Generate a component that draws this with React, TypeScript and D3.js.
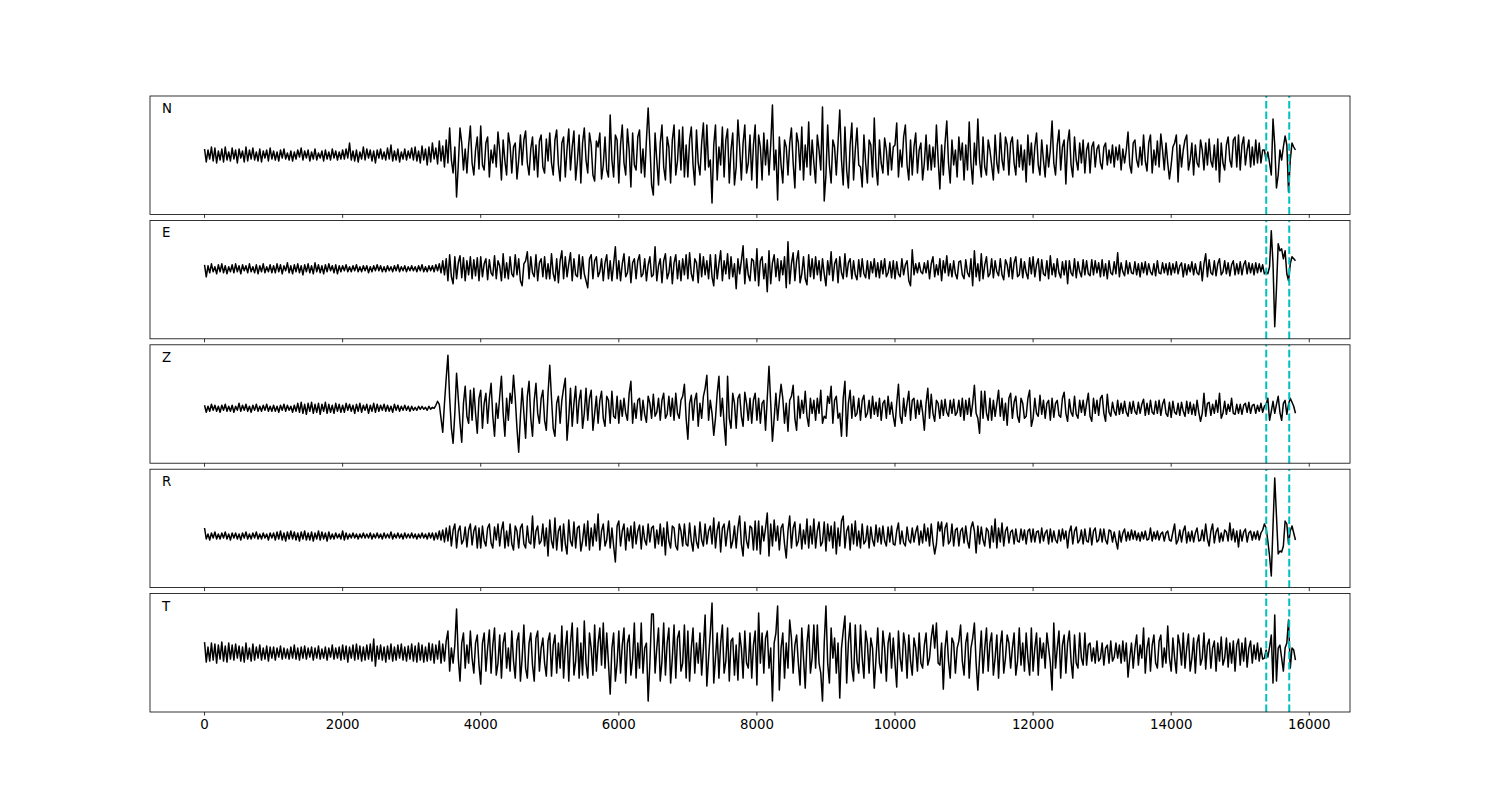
import React from "react";
import * as d3 from "d3";

// channel names, one panel each
const channels = ["N", "E", "Z", "R", "T"];

// samples are read every 25 units along the x axis
const sampleStep = 25;

// picks marked with dashed lines
const pickTimes = [15377, 15710];

const xTicks = [0, 2000, 4000, 6000, 8000, 10000, 12000, 14000, 16000];

// amplitudes, roughly in pixel units above/below each trace baseline
// one line = 1000 x-units (40 samples)
const traceN = [
  6, -7, 5, -4, 8, -6, 7, -8, 4, -5, 6, -7, 8, -5, 3, -6, 7, -4, 5, -8, 6, -3, 4, -7, 8, -6, 5, -4, 7, -5, 3, -6, 6, -7, 4, -3, 5, -6, 7, -4,
  4, -5, 3, -6, 5, -3, 6, -4, 2, -5, 4, -6, 3, -4, 5, -2, 7, -5, 4, -3, 5, -6, 3, -4, 6, -5, 2, -3, 4, -6, 5, -4, 3, -5, 6, -3, 4, -5, 3, -4,
  5, -4, 6, -3, 12, -5, 4, -6, 5, -7, 3, -4, 8, -5, 6, -3, 5, -6, 4, -8, 5, -3, 6, -4, 3, -5, 7, -4, 10, -6, 4, -5, 6, -7, 3, -4, 6, -5, 4, -3,
  7, -5, 8, -6, 4, -8, 9, -5, 6, -10, 8, -7, 12, -4, 7, -9, 14, -6, 9, -12, 15, -8, 27, -5, -18, 8, -42, -10, 27, 12, -15, 6, -18, 10, 29, -8, -20, 5, 18, -14,
  29, -10, -15, 12, 18, -22, 5, -8, 10, -12, 23, 4, -25, 15, -6, -20, 22, 10, -18, 8, 12, -24, -5, 20, -10, 15, 24, -8, -20, 6, 18, -15, 10, -22, 14, 20, -12, -18, 16, -6,
  22, -8, -20, 15, 25, -10, -26, 12, 18, -22, 6, 26, -15, 8, 24, -25, -6, 20, -28, 12, 27, -5, -18, 22, 10, -20, -26, 14, 8, 22, -24, -10, 18, -15, -22, 40, -5, -22, 20, 15,
  -28, 10, 30, -8, -20, 26, 5, -32, 22, -10, -15, 18, 25, -18, 6, -22, 15, 47, 10, -30, -40, 22, -5, -30, 12, 30, -12, -25, 18, 8, -28, 15, 30, -20, -6, 25, -15, 28, -22, 10,
  -22, 15, 28, -10, -30, 25, -8, -20, 12, 32, -15, 30, -12, -5, -48, 10, 30, -25, 8, -10, 28, -22, 15, 26, -28, 5, 22, -30, -12, 35, 8, -25, 12, 30, -18, -8, 20, -25, 10, 30,
  -33, 20, 8, -25, 22, -10, 15, -20, 10, 50, -15, 5, -45, 18, -10, -28, 15, 8, -20, 12, 27, -8, -33, 22, 12, -15, 28, -25, 10, -12, 33, -20, 15, -8, -28, 20, 5, -15, 48, -46,
  -20, 30, -10, -28, 15, 8, -20, 12, 45, -5, -30, 28, -15, -33, 10, 32, -25, 5, 27, -10, -12, -32, 20, -8, -28, 15, 10, -22, 37, -12, -30, 15, -8, -18, 17, 5, -20, 12, -15, 8,
  10, 32, -22, 5, -12, 18, 30, -10, -25, 15, -20, 8, 22, -18, 5, 12, -25, -8, 20, -15, 10, -15, 8, -12, 30, -5, -34, 10, -20, 12, 34, -8, -28, 15, -10, 5, -22, 18, -5, 12,
  -25, 10, -15, 33, -8, -29, 12, -10, 36, -5, -22, 18, -12, -20, 15, 5, -10, -25, 20, -8, -18, 22, -5, -15, 18, 10, -20, 12, 18, -8, -20, 15, -12, 10, -15, 5, -27, 20, -10, 12,
  -18, 8, 22, -10, -20, 15, -5, -22, 10, -12, 5, 34, -8, -20, 10, 25, -15, 8, 15, -29, 12, 25, -10, -22, 18, -5, -15, 12, -8, 15, -18, 5, 12, -18, 8, 13, -12, 6, 10, -8,
  -14, 8, 12, -10, 5, -8, 10, -12, 8, -5, 10, -15, 6, -8, 5, 23, -10, -18, 12, 15, -5, -12, 8, -10, 20, -6, -16, 12, 20, -18, 5, -10, 14, -12, 21, 5, -15, 12, -8, -24,
  -10, 8, 12, 20, -27, 10, -12, 5, 15, 20, -15, -5, 12, -20, 10, -8, -12, 15, 5, -15, 12, -10, 16, -6, -12, 10, -15, 16, -27, 12, -8, -15, 10, 18, -5, -12, 15, 18, -12, 20,
  -15, 10, 18, -10, 5, 15, -12, 8, -10, 15, -8, 12, -8, 5, 5, -5, 3, -8, -20, 36, 10, -33, -20, 5, -5, 8, 19, 10, -37, -5, 12, 8, 5,
];

const traceE = [
  4, -8, 3, -4, 5, -3, 2, -5, 4, -3, 5, -4, 3, -5, 2, -3, 4, -4, 5, -3, 3, -5, 4, -2, 3, -4, 5, -3, 2, -4, 4, -5, 3, -3, 5, -4, 2, -3, 4, -4,
  3, -4, 5, -3, 4, -5, 3, -2, 6, -4, 3, -5, 4, -3, 5, -4, 3, -6, 4, -3, 5, -4, 3, -5, 6, -3, 4, -4, 3, -5, 4, -3, 5, -2, 3, -4, 4, -5, 3, -3,
  3, -2, 4, -3, 2, -3, 3, -2, 4, -3, 2, -3, 3, -2, 3, -4, 2, -3, 3, -2, 4, -2, 3, -3, 2, -3, 3, -2, 2, -3, 3, -2, 4, -3, 2, -2, 3, -3, 2, -2,
  3, -2, 2, -3, 3, -2, 4, -3, 2, -3, 3, -2, 3, -3, 4, -2, 5, -4, 8, -6, 10, -12, 14, -8, -15, 12, -10, 6, 13, -9, 11, -12, 8, -6, 12, -10, 9, -7, 11, -12,
  12, -8, 5, 10, -11, 9, -4, -7, 13, -10, 8, 3, -12, 15, -9, 6, -10, 12, -5, -8, 14, -6, 10, -12, -17, 5, 8, 17, -10, 12, -4, -8, 14, -12, 6, 10, -8, 12, -10, 5,
  -10, 15, -5, -12, 10, -14, 8, 18, -10, 12, -8, 5, 16, -12, 10, -6, -8, 14, -10, 12, -5, -12, -19, 10, 14, -10, 8, 12, -8, -3, 10, -12, 6, 14, -10, 8, -12, 5, 22, -10,
  8, -12, 5, 15, -8, -4, 12, -14, 6, 10, -10, 8, 14, -8, -5, 10, -12, 4, 12, -8, -6, 22, -12, 3, 10, -14, 8, 15, -10, -4, 12, -15, 6, 14, -10, 8, -12, 10, -6, 14,
  -10, 16, -5, -12, 10, 6, -14, 15, -8, 12, -6, 8, -10, 14, -8, -17, 14, -10, 5, 18, -12, 8, -5, 15, -10, 12, -8, 5, -20, 10, -5, 8, 23, -15, 10, -6, -12, 10, 8, -12,
  20, -17, 8, 12, -10, 5, -23, 18, -15, 6, 14, -8, 10, -12, 8, -6, 12, -19, 27, -15, 5, 16, -12, 8, 18, -14, -5, 12, -10, -16, 14, -8, 10, -10, 12, -6, 8, -12, 10, -5,
  -17, 8, -6, 17, -12, 5, 10, -14, 12, -4, -10, 15, -8, 6, 10, -10, 8, -6, -11, 9, -8, 10, -5, -9, 8, -10, 7, -4, 10, -8, 6, -9, 8, -5, 10, -8, -4, 7, -9, 8,
  -10, 7, -5, -8, 10, -6, 4, 8, -12, -17, 19, -6, 5, -4, 6, -3, -5, 6, -4, 8, -10, 5, 12, -8, 4, -6, 10, -12, 8, -4, 13, -7, 5, -8, 8, -5, -10, 7, 8, -6,
  -10, 9, -4, -8, 10, -17, 18, -8, 5, -12, 15, -10, 4, 12, -8, -5, 10, -9, 8, -3, -7, 10, -6, -11, 9, 4, -8, 11, -10, 6, 12, -8, -6, 10, -9, 7, -4, -10, 11, -5,
  12, -8, 4, 10, -12, 9, -5, -7, 8, -10, 13, -6, 5, -8, 10, -4, -9, 7, -6, 8, -15, 8, -4, -7, 10, -9, 7, -3, -8, 9, -6, 8, -5, -7, 9, -6, 8, -4, 6, -8,
  9, -7, 5, -10, 8, -4, -6, 7, -5, 16, -8, 6, -3, -7, 8, -5, 6, -4, -5, 7, -6, 5, -8, 6, -4, 7, -6, 5, -3, -6, 5, -7, 8, -4, -5, 6, -4, 5, -6, 6,
  -6, 5, -4, 7, -5, 3, 6, -8, 5, -6, 4, -3, 7, -6, 5, -4, -6, 7, -12, 5, 15, -8, 9, -4, -6, 8, -7, 5, 10, -6, -3, 8, -5, 6, -7, 4, 8, -6, 5, -5,
  7, -6, 4, 8, -5, 6, -4, 5, -6, 6, -4, 5, -3, 4, -5, -3, -5, 2, 38, 5, -58, -20, 25, 18, 20, 10, 18, -5, -12, 5, 12, 10, 8,
];

const traceZ = [
  3, -4, 2, -3, 4, -2, 3, -3, 2, -4, 3, -2, 4, -3, 2, -3, 3, -4, 2, -2, 5, -3, 3, -2, 4, -3, 2, -4, 3, -2, 4, -3, 2, -3, 3, -2, 4, -3, 2, -3,
  3, -3, 2, -4, 3, -2, 4, -3, 3, -2, 2, -4, 3, -3, 5, -4, 6, -5, 4, -6, 5, -3, 6, -5, 4, -4, 5, -6, 4, -3, 6, -5, 4, -4, 3, -5, 5, -3, 4, -4,
  3, -4, 5, -2, 4, -3, 3, -5, 4, -3, 5, -4, 3, -2, 4, -5, 3, -3, 5, -4, 4, -3, 3, -2, 4, -3, 3, -3, 2, -4, 4, -2, 3, -3, 2, -2, 3, -2, 2, -3,
  2, -2, 1, -2, 2, -1, 2, -1, 1, -2, 2, -1, 1, 0, 3, 7, 4, -10, -24, 5, 30, 53, 10, -20, -35, -5, 35, 10, -15, -34, 5, 22, -8, -15, 18, -12, 20, -5, -25, 10,
  18, -20, 5, 15, -15, 10, 25, -8, -28, 5, -10, 12, 32, -5, -28, 10, -12, 15, 5, 33, 10, -20, -44, -8, 20, -5, -30, 12, 27, -10, -28, 8, 25, -5, -15, 10, 18, -12, -22, 15,
  43, 10, -20, -28, 5, 12, -15, 8, 20, 30, -32, -10, 20, -18, 5, 22, -15, 8, 18, -20, -5, 20, -12, 10, 18, -22, -5, 12, -15, 8, 17, -10, -18, 12, 8, -15, 17, -8, -10, 12,
  -15, 8, -8, 10, -5, -12, 15, 27, -15, 5, -10, 8, 10, -12, 8, -6, -14, 12, 5, -10, 14, -8, -4, 10, -12, 8, 15, -10, -6, 12, -8, 10, -12, 15, -5, -10, 8, 12, 24, -10,
  -31, 5, 13, -12, 8, 15, -18, 5, -10, 12, 20, 33, -12, 8, -5, -27, -10, 15, 32, -8, 10, -15, -37, 32, -10, -20, 15, 5, -20, 10, 14, -8, -18, 16, 5, -12, 10, -15, 8, 15,
  -12, 10, -15, 5, 8, -22, 10, 42, 5, -33, -10, 15, -12, 8, 24, 10, -15, 5, -23, 8, 12, 23, -10, -22, 12, -10, 8, -5, 17, -8, -18, 10, -5, 8, -12, 10, -5, 18, -15, -8,
  -10, 12, 5, 22, -15, 8, 12, -10, -5, -28, 10, 27, -28, 5, 18, -10, 12, -8, -5, 10, -12, 8, 13, -9, -5, 8, -10, 12, -6, 6, -8, 10, -12, 5, 8, -10, 12, -6, 6, -8,
  -18, 5, 24, -8, -15, 10, -8, 5, 17, -12, 8, 10, -10, 8, -6, 8, -4, -22, 5, 20, -10, 14, -5, -13, 8, 5, -10, 8, -7, 9, -4, -8, 8, -5, 9, -7, -4, 8, -8, 10,
  -12, 8, -6, 10, -8, 5, 23, -5, -10, -25, 17, -10, 17, -5, -12, 10, -12, 8, -8, 5, 18, -8, 10, -12, 5, -17, 10, 15, -10, 6, 12, -8, -14, 10, 5, -10, -8, 10, 18, -18,
  -10, 10, -5, -8, 13, -6, 8, -10, 5, 8, -12, 10, -9, 5, 8, -7, -9, 10, 16, -5, -13, 9, -4, -8, 12, -6, -10, 8, -4, 8, -7, 5, 15, -8, -13, 10, -5, 8, -7, 10,
  13, -5, -13, 14, -4, -8, 6, -3, -7, 8, -6, 5, -5, 7, -4, -8, 6, -5, 7, -3, -6, 6, -5, 4, 9, -7, 5, -6, 8, -4, -6, 7, -5, 8, -7, 4, 9, -5, -8, 6,
  -9, 7, -4, -6, 5, -7, 6, -3, -8, 7, -5, 6, -6, 4, -7, 8, -4, -13, -5, 15, -8, 5, 6, -7, 4, -5, 8, -4, 15, -10, -5, 7, -6, 4, -3, 10, -5, -6, 4, -5,
  4, -6, 3, 5, -4, 6, -5, 3, 4, -5, 3, -3, 5, -4, 2, 4, 10, -12, -3, 7, -5, 4, 12, -4, -12, 5, 8, -6, 4, 10, 6, 2, -5,
];

const traceR = [
  8, -3, 2, -4, 3, -2, 4, -3, 2, -3, 3, -2, 4, -3, 2, -4, 3, -2, 3, -3, 2, -4, 3, -2, 4, -3, 2, -3, 3, -2, 4, -3, 2, -3, 3, -2, 2, -4, 3, -2,
  3, -4, 4, -3, 5, -4, 3, -5, 4, -3, 5, -3, 4, -4, 3, -5, 4, -3, 5, -4, 3, -4, 4, -5, 3, -3, 5, -4, 4, -3, 3, -5, 4, -3, 2, -3, 3, -2, 2, -3,
  5, -4, 3, -3, 2, -2, 3, -2, 2, -3, 2, -2, 3, -2, 2, -2, 3, -3, 2, -2, 3, -2, 2, -3, 3, -2, 2, -2, 4, -3, 2, -2, 3, -2, 2, -3, 3, -2, 2, -2,
  3, -2, 2, -3, 2, -2, 3, -2, 2, -3, 3, -2, 3, -4, 3, -3, 5, -4, 6, -6, 8, -5, 10, -10, 6, 12, -12, 5, 10, -8, -4, 9, -11, 6, 12, -9, 5, 10, -12, 8,
  -12, 10, -5, -10, 8, 12, -7, -12, 9, -4, 12, -10, 6, 14, -12, 5, -10, 12, -8, -14, 10, 5, -12, 8, 12, -8, -12, 10, -6, -8, 20, -12, 5, 10, -8, -5, 12, -10, 8, -20,
  16, -5, -12, 18, -14, 5, 10, -15, 12, -8, -18, 16, -5, -10, 14, -12, 8, 10, -15, -5, 12, -10, 15, -14, 8, -10, 12, -5, 22, -14, 5, 12, -10, -4, 15, -12, 8, -10, -26, 10,
  15, -10, 5, 12, -14, 8, -5, 10, -12, 14, -8, 5, 11, -13, 10, -4, -9, 12, -6, 8, 10, -12, 6, -8, 12, -10, 8, -19, 14, -5, -12, 10, 8, -10, -14, 12, 5, -10, 12, -8,
  -10, 13, -5, -15, 10, -6, -12, 14, -4, -10, 12, -8, 5, 10, -8, 18, -12, 6, 14, -16, 8, 12, -10, 5, 15, -12, -5, 10, -12, 8, 20, -8, -20, 14, -5, -12, 10, 8, -14, 15,
  -14, 15, -18, 10, -5, 8, 23, -20, 12, -10, 16, -5, 10, -14, 8, 12, -8, -22, 5, 20, -12, 8, 14, -10, -5, 12, -13, 6, -8, 17, -12, 10, -8, 17, -12, 5, 14, -10, -6, 14,
  -15, 12, -5, 10, -12, 14, -18, 8, -10, 15, 20, -12, 5, 10, -14, 12, -8, 15, -10, 5, -12, 12, -8, -5, 10, -12, 9, -4, -10, 11, -6, 8, -8, 10, -5, -10, 9, -6, 10, -8,
  -9, 5, 13, -8, 5, -7, -10, 9, -4, -7, 8, -6, 4, 10, -9, 5, -7, 12, -5, 8, -10, 12, -6, -18, -8, 14, 5, 14, -10, 8, 13, -8, -5, 12, -10, 6, 8, -10, 5, 8,
  -7, 10, -5, -12, 8, 14, 5, -17, 10, -8, 9, -4, -10, 8, 5, -12, 10, -6, 17, -12, 8, -6, 13, -10, 5, 9, -7, 4, 6, -8, 7, -5, -6, 7, -4, 6, -8, 5, 7, -6,
  7, -6, 4, 5, -7, 8, -5, 3, 6, -8, 7, -6, 5, -4, -7, 6, -5, 7, -3, 5, -12, 4, 10, -8, 5, 9, -7, -4, 6, -8, 7, -5, -6, 8, -9, 5, 8, -6, -4, 7,
  -6, 7, -4, -8, 6, 5, -6, 4, -5, -13, 5, -6, 3, 7, -5, 4, -4, 6, -3, 5, -4, 3, -5, 4, -3, 5, -4, -3, 8, -5, 4, -3, 5, -4, 2, 4, -5, 3, 5, -4,
  -5, 4, 12, -8, -4, 6, -6, 5, 10, -7, 4, -5, 5, -6, 3, 8, -5, -4, 6, -5, 12, -3, -10, 5, 12, -7, 4, 8, -6, 3, -5, 6, 4, -5, 13, -4, 7, -6, 5, -11,
  6, -5, 4, 7, -6, 3, 5, -4, 4, -3, 5, -4, 3, 6, 12, 8, -5, -20, -40, 10, 58, 20, -18, -15, -16, -10, 15, 12, -8, 5, 10, 3, -4,
];

const traceT = [
  11, -9, 6, -8, 10, -7, 9, -10, 8, -6, 11, -8, 7, -9, 10, -6, 8, -7, 9, -5, 7, -8, 6, -9, 10, -6, 5, -8, 9, -7, 6, -5, 8, -7, 5, -6, 7, -8, 6, -5,
  6, -7, 5, -4, 7, -6, 5, -5, 4, -6, 6, -5, 8, -6, 5, -7, 6, -5, 7, -6, 5, -4, 6, -7, 5, -5, 7, -6, 4, -5, 6, -7, 5, -4, 8, -6, 5, -5, 6, -7,
  8, -6, 7, -9, 6, -5, 8, -7, 9, -6, 7, -8, 6, -7, 8, -6, 9, -8, 14, -13, 7, -6, 8, -7, 6, -9, 7, -6, 9, -8, 6, -7, 8, -5, 9, -7, 6, -8, 7, -6,
  9, -8, 7, -9, 10, -7, 8, -9, 6, -8, 10, -7, 9, -10, 8, -6, 12, -10, 9, -8, 12, 22, -18, 5, -10, 8, 44, -5, -28, 10, 20, -15, 8, -10, 22, -5, -20, 10, 18, -12,
  -31, 10, 20, -18, 5, 23, -20, 8, 25, -22, -10, 18, -25, 10, 20, -15, 5, -18, 22, -8, -25, 12, 20, -28, -5, 28, -15, -25, 10, 20, -12, -28, 15, 22, -18, 5, 15, -10, -23, 12,
  20, -23, 8, 18, -20, 10, -15, 27, -25, 5, 22, -28, 10, 30, -22, -8, 25, -25, 10, -22, 32, -10, -25, 20, 5, -22, 28, -18, 10, 25, -12, 30, -15, 20, -10, -41, 5, 20, -28, -10,
  22, -20, 8, 25, -30, 10, 18, -22, -5, 30, -25, 10, -15, 30, -20, 5, 10, -48, -10, 39, 39, -20, 5, 25, -28, -8, 30, -22, 10, 25, -30, -5, 28, -25, 15, 22, -18, -10, 28, -25,
  22, -28, 5, 25, -20, 10, -10, 20, -22, 5, 38, -33, -5, 20, 50, -30, -5, 20, -25, 10, 28, -20, -8, 25, -28, 12, 15, -22, 8, -27, 20, 5, -25, 22, -10, -15, 20, -25, 8, 22,
  -32, 40, -10, 20, -20, 15, 22, -15, 5, -48, 10, 20, 47, -37, 5, 20, -25, 10, -15, 33, 15, -20, 8, 18, -10, -32, 25, -5, -35, 10, 28, -20, -5, 28, -15, 28, -10, -20, -48, 10,
  47, -10, -30, 25, -5, 15, -20, 10, -45, 5, 22, 37, -30, 10, 30, -15, -28, 28, -8, -20, 28, -5, -25, 22, 10, -20, 15, 5, -35, -5, 25, -10, -20, 22, 5, -28, 10, 20, -15, 15,
  -10, -34, 22, -5, -18, 20, 8, -25, 18, -8, -22, 15, 5, -18, 20, -10, -15, 8, 20, -12, -5, 15, 28, 5, 30, -10, -12, 10, -36, 5, 22, -8, -25, 15, 10, -20, 5, 12, 28, -8,
  -22, 10, 20, -25, 5, 15, 30, -10, -37, -5, 22, -20, 5, 25, -18, 10, 20, -22, -5, 18, -25, 8, 22, -20, -5, 18, 10, -15, 5, 20, -22, -8, 25, -12, 10, -18, 20, -5, -22, 25,
  -18, 5, 20, -22, 15, -5, 10, -15, 20, 5, -10, -37, 30, -15, 5, 22, -25, 8, 18, -20, 10, 22, -8, -25, 18, -10, -15, 20, -5, -12, 20, -12, 8, 10, -8, 5, -10, 12, -8, -5,
  10, -12, 5, 8, -10, 12, -8, -4, 10, -5, 8, -10, 12, -8, 10, -24, -5, 10, -15, 5, 18, -12, 8, -5, 25, -20, 5, 15, -18, 8, 18, -10, -15, 12, 18, -14, 5, -10, 27, -5,
  -18, 15, -5, -20, 18, 8, -12, 20, -15, 5, 19, -18, -5, 15, -20, 10, 18, -12, -5, 20, -16, 8, 14, -15, 5, 12, -18, 10, -8, 16, -12, -5, 15, -14, 10, -10, 12, -18, 8, 14,
  -12, 10, -8, 15, -14, 5, 12, -10, 8, -6, 10, -8, 5, -6, -5, 3, -4, 6, 18, -30, 38, -28, 5, 8, -5, -18, 5, 10, 33, -15, 5, 3, -7,
];

// y limits of each panel, same units as the traces
const yLimits = [
  [-59.4, 59],
  [-70, 48.4],
  [-54.9, 63.5],
  [-51.6, 66.8],
  [-58.9, 59.5],
];

const traces = [traceN, traceE, traceZ, traceR, traceT];

const width = 1500;
const height = 800;
const left = 150;
const right = 1350;
const top = 96;
const panelH = 118.4;
const gap = 6;
const font = "DejaVu Sans, sans-serif";

function Panel({ idx }: { idx: number }) {
  const y0 = top + idx * (panelH + gap);
  const y1 = y0 + panelH;
  const x = d3.scaleLinear().domain([-790, 16590]).range([left, right]);
  const y = d3.scaleLinear().domain(yLimits[idx]).range([y1, y0]);
  const line = d3
    .line<number>()
    .x((_, i) => x(i * sampleStep))
    .y((d) => y(d));
  const isLast = idx === channels.length - 1;

  return (
    <g>
      <path
        d={line(traces[idx]) || ""}
        fill="none"
        stroke="black"
        strokeWidth={1.5}
        strokeLinejoin="round"
      />
      {pickTimes.map((t) => (
        <line
          key={t}
          x1={x(t)}
          x2={x(t)}
          y1={y1}
          y2={y0}
          stroke="#00bfbf"
          strokeWidth={2}
          strokeDasharray="7.4 3.2"
        />
      ))}
      <rect
        x={left}
        y={y0}
        width={right - left}
        height={panelH}
        fill="none"
        stroke="black"
        strokeWidth={0.8}
      />
      {xTicks.map((t) => (
        <g key={t}>
          <line x1={x(t)} x2={x(t)} y1={y1} y2={y1 + 3.5} stroke="black" strokeWidth={0.8} />
          {isLast && (
            <text
              x={x(t)}
              y={y1 + 17}
              textAnchor="middle"
              fontFamily={font}
              fontSize={13.33}
              fill="black"
            >
              {t}
            </text>
          )}
        </g>
      ))}
      <text x={162} y={y0 + 17} fontFamily={font} fontSize={13.33} fill="black">
        {channels[idx]}
      </text>
    </g>
  );
}

export default function App() {
  return (
    <svg
      width={width}
      height={height}
      style={{ position: "absolute", left: 0, top: 0, background: "white" }}
    >
      <rect width={width} height={height} fill="white" />
      {channels.map((c, i) => (
        <Panel key={c} idx={i} />
      ))}
    </svg>
  );
}
